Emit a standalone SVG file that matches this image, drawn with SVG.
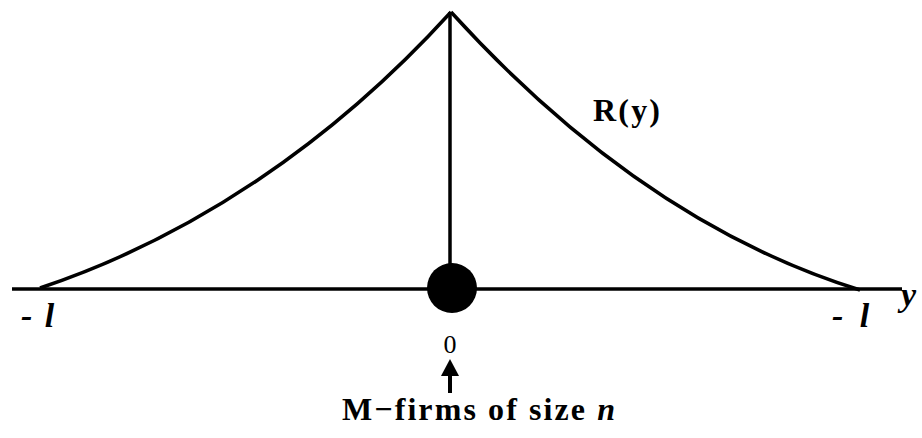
<svg xmlns="http://www.w3.org/2000/svg" width="922" height="438" viewBox="0 0 922 438">
<style>
.ln{fill:none;stroke:#000;stroke-width:3.5;stroke-linejoin:round}
.t{font-family:"Liberation Serif",serif;fill:#000}
.i{font-style:italic}
.b{font-weight:bold}
</style>
<rect width="922" height="438" fill="#fff"/>
<g id="connectors">
<line class="ln" x1="12" y1="289" x2="902" y2="289"/>
<path id="curve-left" class="ln" d="M40,288 C190,238 331,144 451,12"/>
<path id="curve-right" class="ln" d="M451,12 C571,144 705,242 860,290"/>
<line class="ln" x1="450" y1="12" x2="450" y2="289"/>
<line x1="450" y1="393" x2="450" y2="366" stroke="#000" stroke-width="4"/>
<path d="M441,376 L450,359 L459,376 Z" fill="#000"/>
</g>
<g id="node-origin">
<circle cx="452" cy="288" r="25" fill="#000"/>
<text class="t" x="450" y="353" font-size="26" text-anchor="middle">0</text>
</g>
<g id="labels">
<text class="t b" x="593" y="121" font-size="32" textLength="67" lengthAdjust="spacing">R(y)</text>
<text class="t i b" x="21" y="327" font-size="34">- <tspan dx="4">l</tspan></text>
<text class="t i b" x="832" y="327" font-size="34">- <tspan dx="8">l</tspan></text>
<text class="t i b" x="901" y="306" font-size="34">y</text>
<text class="t b" x="342" y="420" font-size="32" textLength="273" lengthAdjust="spacing">M−firms of size <tspan class="i">n</tspan></text>
</g>
</svg>
